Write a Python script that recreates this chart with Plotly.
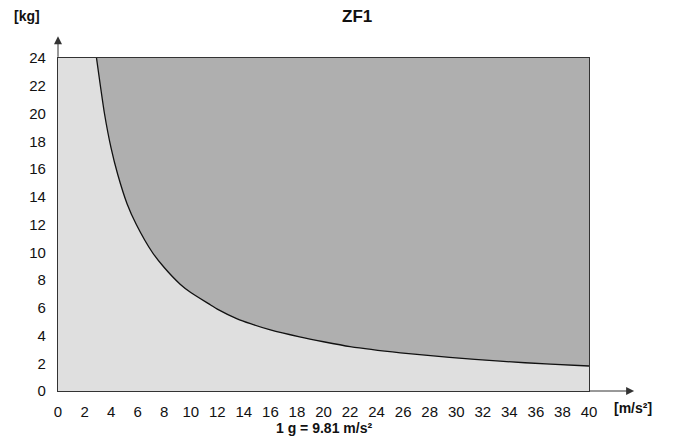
import plotly.graph_objects as go

# Curve (acceleration in m/s², mass in kg)
accel = [2.9, 3.5, 4.0, 4.5, 5.2, 5.9, 7.1, 8.0, 9.2, 10.0, 11.5, 12.0, 13.5, 14.5,
         16.0, 18.2, 20.0, 22.0, 25.8, 29.5, 33.3, 37.1, 40.0]
mass = [24.0, 20.0, 17.5, 15.6, 13.5, 12.0, 10.0, 8.9, 7.7, 7.1, 6.2, 5.9, 5.2, 4.85,
        4.4, 3.9, 3.55, 3.2, 2.75, 2.42, 2.15, 1.93, 1.8]

x_ticks = list(range(0, 41, 2))
y_ticks = list(range(0, 25, 2))
x_range = [0, 40]
y_range = [0, 24]

FONT = "Liberation Sans Narrow, Arial Narrow, Liberation Sans, Arial, sans-serif"
BOLD = "Liberation Sans, Arial, sans-serif"

fig = go.Figure()

# upper boundary (top of permitted region) for the dark fill
fig.add_trace(go.Scatter(
    x=[accel[0], x_range[1]], y=[y_range[1], y_range[1]],
    mode="lines", line=dict(width=0, color="rgba(0,0,0,0)"),
    hoverinfo="skip", showlegend=False))

fig.add_trace(go.Scatter(
    x=accel, y=mass, mode="lines",
    line=dict(color="#111111", width=1.3, shape="spline", smoothing=0.6),
    fill="tonexty", fillcolor="#afafaf",
    hoverinfo="skip", showlegend=False))

fig.update_layout(
    width=673, height=443, autosize=False,
    margin=dict(l=50, r=92, t=50, b=60),
    paper_bgcolor="white", plot_bgcolor="#dfdfdf",
    showlegend=False,
    font=dict(family=FONT, size=15, color="#111111"),
)

fig.update_xaxes(
    range=x_range, tickvals=x_ticks, ticktext=[str(v) for v in x_ticks],
    showgrid=False, zeroline=False,
    showline=True, linecolor="#333333", linewidth=1.3, mirror=True,
    ticks="outside", ticklen=7, tickcolor="rgba(0,0,0,0)",
    tickfont=dict(family=FONT, size=15, color="#111111"),
    fixedrange=True,
)
fig.update_yaxes(
    range=y_range, tickvals=y_ticks, ticktext=[str(v) for v in y_ticks],
    showgrid=False, zeroline=False,
    showline=True, linecolor="#333333", linewidth=1.3, mirror=True,
    ticks="outside", ticklen=8, tickcolor="rgba(0,0,0,0)",
    tickfont=dict(family=FONT, size=15, color="#111111"),
    fixedrange=True,
)

# axis arrows (extensions beyond the plot frame)
fig.add_annotation(xref="paper", yref="paper", x=0, y=1.065, ax=0, ay=22,
                   axref="pixel", ayref="pixel", text="", showarrow=True,
                   arrowhead=2, arrowsize=1.6, arrowwidth=1, arrowcolor="#333333")
fig.add_annotation(xref="paper", yref="paper", x=1.085, y=0, ax=-46, ay=0,
                   axref="pixel", ayref="pixel", text="", showarrow=True,
                   arrowhead=2, arrowsize=1.6, arrowwidth=1, arrowcolor="#333333")

# texts
fig.add_annotation(xref="paper", yref="paper", x=0.563, y=1.125, text="<b>ZF1</b>",
                   showarrow=False, font=dict(family=BOLD, size=17, color="#111111"),
                   xanchor="center", yanchor="middle")
fig.add_annotation(xref="paper", yref="paper", x=-0.058, y=1.125, text="<b>[kg]</b>",
                   showarrow=False, font=dict(family=BOLD, size=14, color="#111111"),
                   xanchor="center", yanchor="middle")
fig.add_annotation(xref="paper", yref="paper", x=1.083, y=-0.051, text="<b>[m/s²]</b>",
                   showarrow=False, font=dict(family=BOLD, size=14, color="#111111"),
                   xanchor="center", yanchor="middle")
fig.add_annotation(xref="paper", yref="paper", x=0.5, y=-0.111, text="<b>1 g = 9.81 m/s²</b>",
                   showarrow=False, font=dict(family=BOLD, size=14, color="#111111"),
                   xanchor="center", yanchor="middle")

fig.write_html("out.html")
